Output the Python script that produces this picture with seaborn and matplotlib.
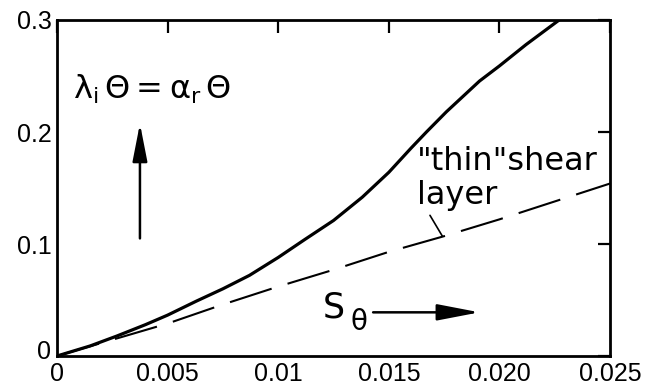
import matplotlib
matplotlib.use("Agg")
import matplotlib.pyplot as plt
import matplotlib.transforms as mtransforms
import seaborn as sns
import pandas as pd

# ---- data ----
solid_x = [0, 0.0015, 0.0027, 0.004, 0.005, 0.0063, 0.0075, 0.0087, 0.010,
           0.0112, 0.0125, 0.0138, 0.015, 0.016, 0.0167, 0.0176, 0.0191,
           0.020, 0.0212, 0.0227]
solid_y = [0, 0.009, 0.0178, 0.028, 0.0365, 0.049, 0.060, 0.072, 0.088,
           0.104, 0.121, 0.1418, 0.164, 0.1855, 0.200, 0.218, 0.2455,
           0.259, 0.278, 0.300]

dashed_x = [0, 0.0025, 0.005, 0.0075, 0.010, 0.0125, 0.015, 0.0175, 0.020,
            0.0225, 0.025]
dashed_y = [0, 0.0145, 0.029, 0.046, 0.062, 0.077, 0.093, 0.107, 0.122,
            0.138, 0.154]

x_ticks = [0, 0.005, 0.010, 0.015, 0.020, 0.025]
x_tick_labels = ["0", "0.005", "0.01", "0.015", "0.020", "0.025"]
y_ticks = [0, 0.1, 0.2, 0.3]
y_tick_labels = ["0", "0.1", "0.2", "0.3"]

sns.set_style("white")
plt.rcParams["font.family"] = ["DejaVu Sans"]
plt.rcParams["mathtext.fontset"] = "dejavusans"

fig = plt.figure(figsize=(6.49, 3.89), dpi=100)
ax = fig.add_axes([0.0878, 0.0848, 0.8522, 0.8638])

df_s = pd.DataFrame({"x": solid_x, "y": solid_y})
df_d = pd.DataFrame({"x": dashed_x, "y": dashed_y})
sns.lineplot(data=df_s, x="x", y="y", ax=ax, color="black", lw=2.3,
             sort=False, estimator=None)
sns.lineplot(data=df_d, x="x", y="y", ax=ax, color="black", lw=1.5,
             sort=False, estimator=None, dashes=False)
ax.lines[-1].set_dashes([21, 8])

ax.set_xlim(0, 0.025)
ax.set_ylim(0, 0.3)
ax.set_xlabel("")
ax.set_ylabel("")

tick_font = ["Liberation Sans", "DejaVu Sans"]
ax.set_xticks(x_ticks)
ax.set_xticklabels(x_tick_labels, family=tick_font, fontsize=18)
ax.set_yticks(y_ticks)
ax.set_yticklabels(y_tick_labels, family=tick_font, fontsize=18)
ax.tick_params(direction="in", top=True, right=True, length=9, width=1.6,
               pad=4, colors="black")

# lift the y-axis "0" label a little, as in the reference
lbl0 = ax.get_yticklabels()[0]
lbl0.set_transform(lbl0.get_transform() +
                   mtransforms.ScaledTranslation(0, 7 / 100, fig.dpi_scale_trans))

for sp in ax.spines.values():
    sp.set_visible(True)
    sp.set_color("black")
    sp.set_linewidth(2.0)

# annotations
ax.text(0.00073, 0.238, r"$\mathrm{\lambda_i\,\Theta = \alpha_r\,\Theta}$",
        fontsize=23, ha="left", va="center", color="black")
ax.annotate("", xy=(0.00375, 0.2075), xytext=(0.00375, 0.105),
            arrowprops=dict(arrowstyle="-|>,head_length=2.3,head_width=0.45",
                            color="black", lw=1.8, shrinkA=0, shrinkB=0))

ax.text(0.01203, 0.0432, "S", fontsize=25, ha="left", va="center",
        color="black")
ax.text(0.01325, 0.0307, "θ", fontsize=20, ha="left", va="center",
        color="black")
ax.annotate("", xy=(0.0191, 0.039), xytext=(0.01429, 0.039),
            arrowprops=dict(arrowstyle="-|>,head_length=2.6,head_width=0.5",
                            color="black", lw=1.8, shrinkA=0, shrinkB=0))

ax.text(0.01628, 0.1736, "\"thin\"shear", fontsize=23, ha="left",
        va="center", color="black")
ax.text(0.01628, 0.143, "layer", fontsize=23, ha="left",
        va="center", color="black")
ax.plot([0.01686, 0.01742], [0.1256, 0.107], color="black", lw=1.2)

fig.savefig("out.png", dpi=100)
